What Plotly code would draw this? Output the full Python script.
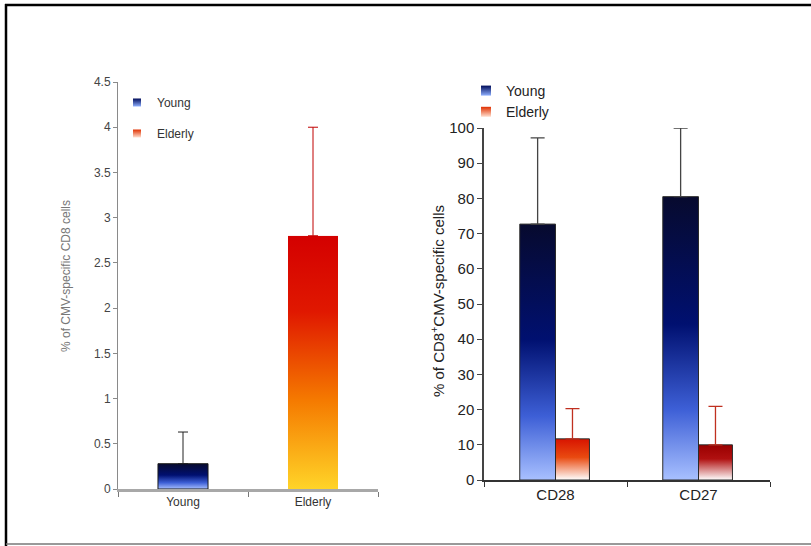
import base64

import plotly.graph_objects as go

# ---------------------------------------------------------------------------
# Data
# ---------------------------------------------------------------------------
left_groups = ["Young", "Elderly"]
left_mean = [0.28, 2.80]
left_err = [0.35, 1.20]

right_markers = ["CD28", "CD27"]
right_young = [72.7, 80.5]
right_young_err = [24.5, 19.5]
right_elderly = [11.7, 10.0]
right_elderly_err = [8.6, 10.9]

W, H = 811, 546
FONT = "Liberation Sans, Arial, sans-serif"

# gradient stops (top -> bottom) used as bar fills
YOUNG_STOPS = [(0, "#070a2e"), (0.45, "#001070"), (0.75, "#3d5fd6"), (1, "#a8c0ff")]
ELDERLY_LEFT_STOPS = [(0, "#d40000"), (0.3, "#e01800"), (0.65, "#f57a00"), (1, "#ffd428")]
ELDERLY_CD28_STOPS = [(0, "#d81400"), (0.45, "#e94a10"), (1, "#ffffff")]
ELDERLY_CD27_STOPS = [(0, "#9a0000"), (0.4, "#b01010"), (1, "#ffffff")]


def grad_uri(stops):
    s = "".join(f'<stop offset="{o}" stop-color="{c}"/>' for o, c in stops)
    svg = (
        '<svg xmlns="http://www.w3.org/2000/svg" width="10" height="100" '
        'viewBox="0 0 10 100" preserveAspectRatio="none">'
        f'<defs><linearGradient id="g" x1="0" y1="0" x2="0" y2="1">{s}</linearGradient></defs>'
        '<rect width="10" height="100" fill="url(#g)"/></svg>'
    )
    return "data:image/svg+xml;base64," + base64.b64encode(svg.encode()).decode()


def px_x(v):
    return v / W


def px_y(v):
    return 1 - v / H


images = []


def gradient_under(xref, yref, idx, offset, width, value, stops):
    images.append(
        dict(
            source=grad_uri(stops),
            xref=xref,
            yref=yref,
            x=idx + offset,
            y=value,
            sizex=width,
            sizey=value,
            xanchor="left",
            yanchor="top",
            sizing="stretch",
            layer="below",
        )
    )


fig = go.Figure()

# ---------------- left panel ----------------
LW = 0.385
left_err_colors = ["#222222", "#c00000"]
left_line_colors = ["#1a1a1a", "rgba(0,0,0,0)"]
left_stops = [YOUNG_STOPS, ELDERLY_LEFT_STOPS]
for i, grp in enumerate(left_groups):
    fig.add_bar(
        x=[grp],
        y=[left_mean[i]],
        width=LW,
        offset=-LW / 2,
        marker=dict(color="rgba(0,0,0,0)", line=dict(color=left_line_colors[i], width=1)),
        error_y=dict(
            type="data",
            symmetric=False,
            array=[left_err[i]],
            arrayminus=[0],
            color=left_err_colors[i],
            thickness=1,
            width=5,
        ),
        showlegend=False,
        xaxis="x",
        yaxis="y",
    )
    gradient_under("x", "y", i, -LW / 2, LW, left_mean[i], left_stops[i])

# ---------------- right panel ----------------
RW = 0.25
for i, m in enumerate(right_markers):
    gradient_under("x2", "y2", i, -RW, RW, right_young[i], YOUNG_STOPS)
    gradient_under("x2", "y2", i, 0, RW * 0.95, right_elderly[i],
                   [ELDERLY_CD28_STOPS, ELDERLY_CD27_STOPS][i])

fig.add_bar(
    x=right_markers,
    y=right_young,
    width=RW,
    offset=-RW,
    marker=dict(color="rgba(0,0,0,0)", line=dict(color="#2a2a2a", width=1)),
    error_y=dict(type="data", symmetric=False, array=right_young_err,
                 arrayminus=[0, 0], color="#444444", thickness=1.3, width=7),
    showlegend=False,
    xaxis="x2",
    yaxis="y2",
)
fig.add_bar(
    x=right_markers,
    y=right_elderly,
    width=RW * 0.95,
    offset=0,
    marker=dict(color="rgba(0,0,0,0)", line=dict(color="#2a2a2a", width=1)),
    error_y=dict(type="data", symmetric=False, array=right_elderly_err,
                 arrayminus=[0, 0], color="#c03020", thickness=1.3, width=7),
    showlegend=False,
    xaxis="x2",
    yaxis="y2",
)

# legend swatches (gradient squares)
for legend, size, grp in [("legend", 8, "a"), ("legend2", 10, "b")]:
    fig.add_scatter(
        x=[None], y=[None], mode="markers", name="Young", legend=legend,
        legendgroup=grp + "y",
        marker=dict(symbol="square", size=size, color="#000c5a",
                    gradient=dict(type="vertical", color="#8fb0ff")),
        xaxis="x" if legend == "legend" else "x2",
        yaxis="y" if legend == "legend" else "y2",
    )
    fig.add_scatter(
        x=[None], y=[None], mode="markers", name="Elderly", legend=legend,
        legendgroup=grp + "e",
        marker=dict(symbol="square", size=size, color="#e03000",
                    gradient=dict(type="vertical", color="#ffe0d0")),
        xaxis="x" if legend == "legend" else "x2",
        yaxis="y" if legend == "legend" else "y2",
    )

fig.update_layout(
    width=W,
    height=H,
    margin=dict(l=0, r=0, t=0, b=0, pad=0, autoexpand=False),
    paper_bgcolor="white",
    plot_bgcolor="rgba(0,0,0,0)",
    font=dict(family=FONT),
    barmode="overlay",
    images=images,
    xaxis=dict(
        domain=[px_x(118), px_x(378)],
        anchor="y",
        categoryorder="array",
        categoryarray=left_groups,
        showline=True,
        linecolor="#a8a8a8",
        linewidth=3,
        ticks="outside",
        tickson="boundaries",
        ticklen=5,
        tickcolor="#777777",
        tickfont=dict(size=12, color="#333333"),
        showgrid=False,
        zeroline=False,
    ),
    yaxis=dict(
        domain=[px_y(489), px_y(82)],
        anchor="x",
        range=[0, 4.5],
        dtick=0.5,
        showline=True,
        linecolor="#8a8a8a",
        linewidth=1,
        ticks="outside",
        ticklen=4,
        tickcolor="#8a8a8a",
        tickfont=dict(size=12, color="#444444"),
        showgrid=False,
        zeroline=False,
    ),
    xaxis2=dict(
        domain=[px_x(484), px_x(770)],
        anchor="y2",
        categoryorder="array",
        categoryarray=right_markers,
        showline=True,
        linecolor="#333333",
        linewidth=2,
        ticks="outside",
        tickson="boundaries",
        ticklen=5,
        tickcolor="#333333",
        tickfont=dict(size=15, color="#222222"),
        showgrid=False,
        zeroline=False,
    ),
    yaxis2=dict(
        domain=[px_y(480), px_y(128)],
        anchor="x2",
        range=[0, 100],
        dtick=10,
        showline=True,
        linecolor="#444444",
        linewidth=1.5,
        ticks="outside",
        ticklen=5,
        tickcolor="#444444",
        tickfont=dict(size=15, color="#222222"),
        showgrid=False,
        zeroline=False,
    ),
    legend=dict(
        x=px_x(117), y=px_y(88), xanchor="left", yanchor="top",
        font=dict(size=12, color="#333333"), tracegroupgap=12,
        bgcolor="rgba(0,0,0,0)", itemwidth=30,
    ),
    legend2=dict(
        x=px_x(466), y=px_y(75), xanchor="left", yanchor="top",
        font=dict(size=14, color="#222222"), tracegroupgap=0,
        bgcolor="rgba(0,0,0,0)", itemwidth=30,
    ),
    annotations=[
        dict(text="% of CMV-specific CD8 cells", xref="paper", yref="paper",
             x=px_x(66), y=px_y(276), xanchor="center", yanchor="middle",
             textangle=-90, showarrow=False,
             font=dict(size=12, color="#777777")),
        dict(text="% of CD8<sup>+</sup>CMV-specific cells", xref="paper", yref="paper",
             x=px_x(437), y=px_y(301), xanchor="center", yanchor="middle",
             textangle=-90, showarrow=False,
             font=dict(size=15, color="#222222")),
    ],
    shapes=[
        dict(type="line", xref="paper", yref="paper", x0=px_x(6), x1=px_x(6),
             y0=px_y(4), y1=px_y(546), line=dict(color="black", width=2.5)),
        dict(type="line", xref="paper", yref="paper", x0=px_x(5), x1=1,
             y0=px_y(5), y1=px_y(5), line=dict(color="black", width=2.5)),
        dict(type="line", xref="paper", yref="paper", x0=px_x(6), x1=1,
             y0=px_y(544), y1=px_y(544), line=dict(color="#777777", width=1.5)),
    ],
)

fig.write_html(
    "out.html",
    config={"displayModeBar": False},
    post_script="document.body.style.margin='0';document.body.style.overflow='hidden';",
)
